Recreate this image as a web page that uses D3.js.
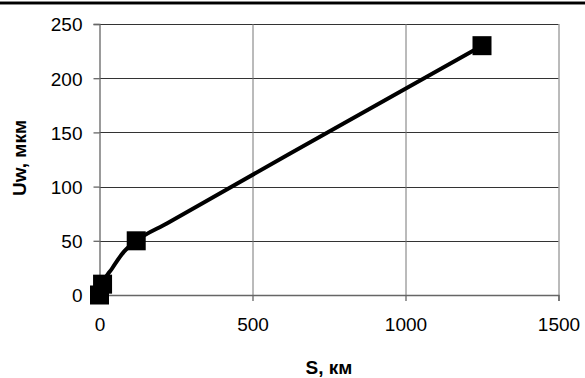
<!DOCTYPE html>
<html>
<head>
<meta charset="utf-8">
<script src="https://cdn.jsdelivr.net/npm/d3@7"></script>
<style>
  body { margin: 0; background: #fff; }
  text { font-family: Arial, "Liberation Sans", sans-serif; fill: #000; }
</style>
</head>
<body>
<div class="chart"></div>
<script>
// curve points (S, km  ->  Uw, mkm)
var lineS = [0, 10, 40, 80, 120, 220, 620, 1250];
var lineU = [0, 10, 24, 40, 50, 66, 130, 230];
// measured points with square markers
var markS = [0, 10, 120, 1250];
var markU = [0, 10, 50, 230];
var xTicks = [0, 500, 1000, 1500];
var yTicks = [0, 50, 100, 150, 200, 250];

var svgWidth = 585, svgHeight = 378;
var margin = {top: 24, right: 26.5, bottom: 83, left: 99.5};
var chartWidth = svgWidth - margin.left - margin.right;
var chartHeight = svgHeight - margin.top - margin.bottom;

var svg = d3.select(".chart").append("svg")
  .attr("width", svgWidth)
  .attr("height", svgHeight);

// thick rule at the top
svg.append("rect").attr("x", 0).attr("y", 1).attr("width", svgWidth).attr("height", 4).attr("fill", "#888");
svg.append("rect").attr("x", 0).attr("y", 2).attr("width", svgWidth).attr("height", 2).attr("fill", "#000");

var chartGroup = svg.append("g")
  .attr("transform", `translate(${margin.left}, ${margin.top})`);

var xScale = d3.scaleLinear().domain([0, 1500]).range([0, chartWidth]);
var yScale = d3.scaleLinear().domain([0, 250]).range([chartHeight, 0]);

// grid
chartGroup.append("g").selectAll("line")
  .data(yTicks.slice(1))
  .enter().append("line")
  .attr("x1", 0).attr("x2", chartWidth)
  .attr("y1", d => Math.round(yScale(d)) + 0.5)
  .attr("y2", d => Math.round(yScale(d)) + 0.5)
  .attr("stroke", "#333").attr("stroke-width", 1);

chartGroup.append("g").selectAll("line")
  .data(xTicks.slice(1))
  .enter().append("line")
  .attr("x1", d => Math.round(xScale(d)) + 0.5)
  .attr("x2", d => Math.round(xScale(d)) + 0.5)
  .attr("y1", 0).attr("y2", chartHeight)
  .attr("stroke", "#777").attr("stroke-width", 1);

// axes
var xAxis = d3.axisBottom(xScale).tickValues(xTicks).tickSize(6).tickPadding(17).tickFormat(d3.format("d"));
var yAxis = d3.axisLeft(yScale).tickValues(yTicks).tickSize(6).tickPadding(11).tickFormat(d3.format("d"));

var gx = chartGroup.append("g")
  .attr("transform", `translate(0, ${chartHeight})`)
  .call(xAxis);
var gy = chartGroup.append("g").call(yAxis);

[gx, gy].forEach(function(g) {
  g.select(".domain").attr("stroke", "#666").attr("stroke-width", 1.3);
  g.selectAll(".tick line").attr("stroke", "#666").attr("stroke-width", 1.3);
  g.selectAll(".tick text").attr("font-size", "19px").attr("fill", "#000")
    .style("font-family", "Arial, 'Liberation Sans', sans-serif");
});
gy.selectAll(".tick text").attr("dy", "0.36em");

// line
var pts = lineS.map((s, i) => [s, lineU[i]]);
var line = d3.line()
  .x(d => xScale(d[0]))
  .y(d => yScale(d[1]))
  .curve(d3.curveMonotoneX);

chartGroup.append("path")
  .datum(pts)
  .attr("d", line)
  .attr("fill", "none")
  .attr("stroke", "#000")
  .attr("stroke-width", 4)
  .attr("stroke-linejoin", "round");

// markers
var sq = 19;
chartGroup.append("g").selectAll("rect")
  .data(markS.map((s, i) => [s, markU[i]]))
  .enter().append("rect")
  .attr("x", d => xScale(d[0]) - sq / 2)
  .attr("y", d => yScale(d[1]) - sq / 2)
  .attr("width", sq).attr("height", sq)
  .attr("fill", "#000");

// axis titles
svg.append("text")
  .attr("x", margin.left + chartWidth / 2)
  .attr("y", 374)
  .attr("text-anchor", "middle")
  .attr("font-size", "19px")
  .attr("font-weight", "bold")
  .text("S, км");

svg.append("text")
  .attr("transform", "translate(26, 158) rotate(-90)")
  .attr("text-anchor", "middle")
  .attr("font-size", "19px")
  .attr("font-weight", "bold")
  .text("Uw, мкм");
</script>
</body>
</html>
